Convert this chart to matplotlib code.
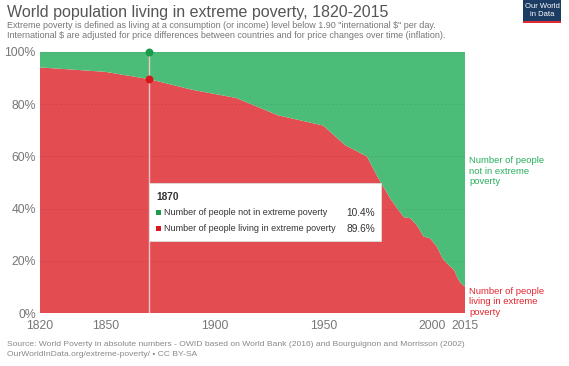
import matplotlib
matplotlib.use("Agg")
import matplotlib.pyplot as plt
from matplotlib.patches import Rectangle

years = [1820, 1850, 1870, 1890, 1910, 1929, 1950, 1960, 1970, 1975, 1981, 1984, 1987,
         1990, 1993, 1996, 1999, 2002, 2005, 2008, 2010, 2011, 2012, 2013, 2015]
poverty = [94.1, 92.4, 89.6, 85.5, 82.4, 75.8, 71.8, 64.3, 60.0, 52.0, 43.5, 40.0, 36.7,
           36.3, 33.5, 29.3, 28.6, 25.5, 20.5, 18.0, 16.5, 14.5, 12.8, 11.5, 10.1]
not_poverty = [100 - p for p in poverty]

yticks = [0, 20, 40, 60, 80, 100]
ytick_labels = ["0%", "20%", "40%", "60%", "80%", "100%"]
xticks = [1820, 1850, 1900, 1950, 2000, 2015]

hl_year = 1870
hl_not = 10.4
hl_pov = 89.6

RED = "#E34C50"
GREEN = "#4CBD79"
RED_TXT = "#E3262E"
GREEN_TXT = "#2BAE5E"
GRAY = "#777777"

plt.rcParams["font.family"] = ["Liberation Sans", "DejaVu Sans"]

fig = plt.figure(figsize=(5.69, 3.66), dpi=100)
ax = fig.add_axes([40 / 569, 53 / 366, 425 / 569, 261 / 366])

ax.stackplot(years, poverty, not_poverty, colors=[RED, GREEN], linewidth=0)
ax.set_xlim(1820, 2015)
ax.set_ylim(0, 100)

for y in yticks[1:]:
    ax.axhline(y, color="#000000", alpha=0.08, lw=0.7, ls=(0, (2, 2)), zorder=2)

ax.set_yticks(yticks)
ax.set_yticklabels(ytick_labels)
ax.set_xticks(xticks)
ax.set_xticklabels([str(x) for x in xticks])
ax.tick_params(axis="both", length=0, labelsize=8.8, colors=GRAY, pad=3)
ax.tick_params(axis="x", pad=5)
for s in ax.spines.values():
    s.set_visible(False)

# highlight line & markers
ax.axvline(hl_year, color="#F2C6C6", lw=1.0, zorder=3)
ax.scatter([hl_year], [100], s=22, color="#1A9A4A", zorder=5, clip_on=False)
ax.scatter([hl_year], [hl_pov], s=22, color="#D9161C", zorder=5, clip_on=False)

# tooltip
bx0, by0, bw, bh = 149, 183, 232, 58
box = Rectangle((bx0 / 569, 1 - (by0 + bh) / 366), bw / 569, bh / 366,
                transform=fig.transFigure, facecolor="white", edgecolor="#DDDDDD",
                lw=0.6, zorder=10)
fig.patches.append(box)
fig.text(156 / 569, 1 - 196.5 / 366, str(hl_year), fontsize=7.3, fontweight="bold",
         color="#333333", va="center", zorder=11)
fig.patches.append(Rectangle((156 / 569, 1 - 215 / 366), 5 / 569, 5 / 366,
                             transform=fig.transFigure, facecolor="#1A9A4A", zorder=11))
fig.patches.append(Rectangle((156 / 569, 1 - 231 / 366), 5 / 569, 5 / 366,
                             transform=fig.transFigure, facecolor="#D9161C", zorder=11))
fig.text(164 / 569, 1 - 212.5 / 366, "Number of people not in extreme poverty", fontsize=6.5,
         color="#333333", va="center", zorder=11)
fig.text(164 / 569, 1 - 228.5 / 366, "Number of people living in extreme poverty", fontsize=6.5,
         color="#333333", va="center", zorder=11)
fig.text(375 / 569, 1 - 212.5 / 366, f"{hl_not}%", fontsize=7.3, color="#333333",
         va="center", ha="right", zorder=11)
fig.text(375 / 569, 1 - 228.5 / 366, f"{hl_pov}%", fontsize=7.3, color="#333333",
         va="center", ha="right", zorder=11)

# right labels
fig.text(469 / 569, 1 - 171 / 366, "Number of people\nnot in extreme\npoverty", fontsize=6.8,
         color=GREEN_TXT, va="center", ha="left", linespacing=1.15)
fig.text(469 / 569, 1 - 302 / 366, "Number of people\nliving in extreme\npoverty", fontsize=6.8,
         color=RED_TXT, va="center", ha="left", linespacing=1.15)

# title
fig.text(7 / 569, 1 - 13 / 366, "World population living in extreme poverty, 1820-2015",
         fontsize=11.5, color="#555555", va="center")
fig.text(7 / 569, 1 - 25.5 / 366,
         'Extreme poverty is defined as living at a consumption (or income) level below 1.90 "international $" per day.',
         fontsize=6.5, color="#777777", va="center")
fig.text(7 / 569, 1 - 36 / 366,
         "International $ are adjusted for price differences between countries and for price changes over time (inflation).",
         fontsize=6.5, color="#777777", va="center")

# source
fig.text(7 / 569, 1 - 344 / 366,
         "Source: World Poverty in absolute numbers - OWID based on World Bank (2016) and Bourguignon and Morrisson (2002)",
         fontsize=6.1, color="#888888", va="center")
fig.text(7 / 569, 1 - 354 / 366, "OurWorldInData.org/extreme-poverty/ \u2022 CC BY-SA",
         fontsize=6.1, color="#888888", va="center")

# logo
fig.patches.append(Rectangle((523 / 569, 1 - 21 / 366), 38 / 569, 21 / 366,
                             transform=fig.transFigure, facecolor="#1D3C63", zorder=10))
fig.patches.append(Rectangle((523 / 569, 1 - 23 / 366), 38 / 569, 2 / 366,
                             transform=fig.transFigure, facecolor="#E02A35", zorder=10))
fig.text(542 / 569, 1 - 10.5 / 366, "Our World\nin Data", fontsize=5.5, color="white",
         ha="center", va="center", linespacing=1.0, zorder=11)

fig.savefig("out.png", dpi=100)
